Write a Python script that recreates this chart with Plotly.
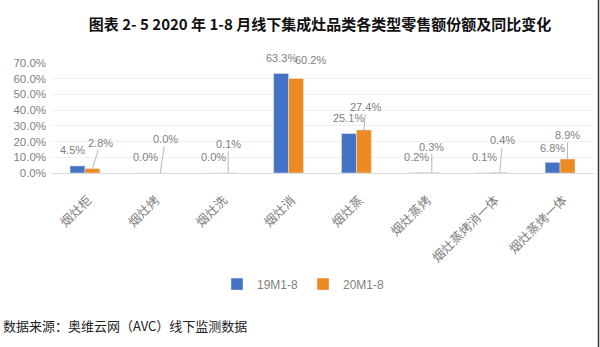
import plotly.graph_objects as go

categories = ["烟灶柜", "烟灶烤", "烟灶洗", "烟灶消", "烟灶蒸", "烟灶蒸烤", "烟灶蒸烤消一体", "烟灶蒸烤一体"]
series_names = ["19M1-8", "20M1-8"]
values_19 = [4.5, 0.0, 0.0, 63.3, 25.1, 0.2, 0.1, 6.8]
values_20 = [2.8, 0.0, 0.1, 60.2, 27.4, 0.3, 0.4, 8.9]
y_ticks = [0, 10, 20, 30, 40, 50, 60, 70]

colors = ["#4472C4", "#EE8A22"]
FONT = "Liberation Sans, Arial, Noto Sans CJK SC, sans-serif"
CJK = "Noto Sans CJK SC, sans-serif"
GRAY = "#7F7F7F"

# label placement styles in pixels
lab19 = [(-4.5, 16), (0, 16), (0, 16), (0, 16), (0, 16), (0, 16), (0, 16), (0, 14)]  # (dx, lift)
lab20 = [  # (text dx, text dy, leader line?)
    (8, -26, True),
    (5, -34, True),
    (0, -29, True),
    (14.5, -18, False),
    (2, -23, True),
    (0, -26, True),
    (3, -32, True),
    (0, -24, True),
]

fig = go.Figure()
fig.add_trace(go.Bar(x=categories, y=values_19, name=series_names[0], marker_color=colors[0]))
fig.add_trace(go.Bar(x=categories, y=values_20, name=series_names[1], marker_color=colors[1]))

annotations = []
for i, c in enumerate(categories):
    dx, lift = lab19[i]
    annotations.append(dict(x=c, y=values_19[i], text=f"{values_19[i]:.1f}%", showarrow=False,
                            xshift=-7.5 + dx, yshift=lift,
                            font=dict(size=11, color=GRAY, family=FONT)))
    dx, dy, lead = lab20[i]
    if lead:
        annotations.append(dict(x=c, y=values_20[i], text=f"{values_20[i]:.1f}%", showarrow=True,
                                arrowhead=0, arrowwidth=0.8, arrowcolor="#A6A6A6",
                                ax=dx, ay=dy, xshift=7.5, standoff=0,
                                font=dict(size=11, color=GRAY, family=FONT)))
    else:
        annotations.append(dict(x=c, y=values_20[i], text=f"{values_20[i]:.1f}%", showarrow=False,
                                xshift=7.5 + dx, yshift=-dy, font=dict(size=11, color=GRAY, family=FONT)))

annotations.append(dict(xref="paper", yref="paper", x=-0.092, y=-1.39, xanchor="left", yanchor="middle",
                        text="数据来源：奥维云网（AVC）线下监测数据", showarrow=False,
                        font=dict(size=13, color="#222222", family=CJK)))

fig.update_layout(
    width=600, height=347,
    margin=dict(l=51, r=6, t=63, b=174),
    paper_bgcolor="white", plot_bgcolor="white",
    barmode="group", bargap=0.56, bargroupgap=0,
    title=dict(text="<b>图表 2- 5 2020 年 1-8 月线下集成灶品类各类型零售额份额及同比变化</b>",
               xref="container", yref="container", x=320 / 600, y=1 - 25 / 347,
               xanchor="center", yanchor="middle",
               font=dict(size=15, color="#111111", family=CJK)),
    xaxis=dict(tickangle=-45, tickfont=dict(size=12.5, color=GRAY, family=CJK),
               ticklabelstandoff=14, ticklabelshift=3,
               showline=True, linecolor="#D9D9D9", linewidth=1, ticks=""),
    yaxis=dict(range=[0, 70], tickvals=y_ticks, ticktext=[f"{v:.1f}%" for v in y_ticks],
               tickfont=dict(size=11.5, color=GRAY, family=FONT), showgrid=True,
               ticklabelstandoff=4,
               gridcolor="#F0F0F0", zeroline=False, showline=False),
    legend=dict(orientation="h", xanchor="center", yanchor="middle", x=0.465, y=-1.01,
                font=dict(size=12, color=GRAY, family=FONT), itemwidth=30, traceorder="normal",
                bgcolor="rgba(0,0,0,0)"),
    annotations=annotations,
    shapes=[dict(type="line", xref="paper", yref="paper", x0=1.0083, x1=1.0083, y0=-1.6, y1=1.6,
                 line=dict(color="#333333", width=1.5))],
)

fig.write_html("out.html")
